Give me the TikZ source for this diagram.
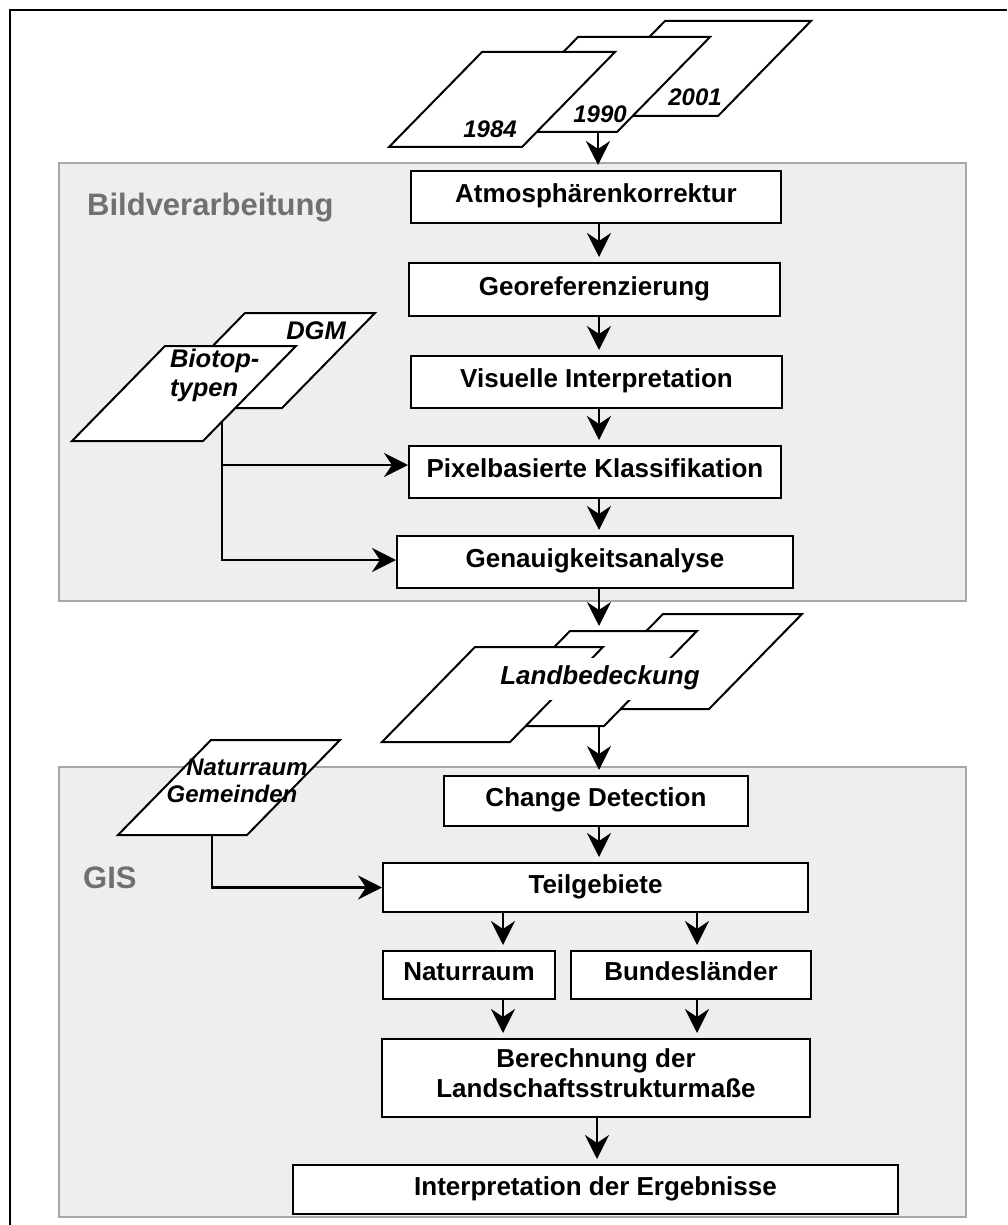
\documentclass[tikz,border=0pt]{standalone}
\usepackage{fontspec}
\setmainfont{Liberation Sans}
\usetikzlibrary{arrows.meta,calc}
\definecolor{panelfill}{HTML}{EEEEEE}
\definecolor{panelline}{HTML}{A8A8A8}
\definecolor{paneltext}{HTML}{707070}
\newcommand{\pgram}[3]{\filldraw[pgshape] (#1,#2) -- ++(#3,0) -- ++(93,-95) -- ++(-#3,0) -- cycle;}
\begin{document}
\begin{tikzpicture}[x=1pt,y=-1pt,
  box/.style={draw=black, line width=2pt, fill=white, inner sep=0pt,
    font=\fontsize{26}{30}\selectfont\bfseries, text height=19pt, text depth=8pt, align=center},
  pgshape/.style={draw=black, line width=2pt, fill=white, line join=miter},
  plabel/.style={font=\fontsize{24}{25}\selectfont\bfseries\itshape, inner sep=0pt, anchor=base},
  blabel/.style={font=\fontsize{25.5}{26}\selectfont\bfseries\itshape, inner sep=0pt, anchor=base},
  panel/.style={fill=panelfill, draw=panelline, line width=1.5pt},
  ptitle/.style={font=\fontsize{31}{31}\selectfont\bfseries, text=paneltext, inner sep=0pt, anchor=base west},
  tip/.style={-{Stealth[length=24pt,width=24pt,inset=8pt]}},
  arrv/.style={line width=2.8pt, tip, shorten >=5pt},
  arrh/.style={line width=2.8pt, tip}]
\useasboundingbox (0,0) rectangle (1007,1225);
% outer frame
\draw[line width=2pt] (10,1225) -- (10,10) -- (1007,10);
% panels
\filldraw[panel] (59,163) rectangle (966,601);
\filldraw[panel] (59,767) rectangle (966,1217);
\node[ptitle] (bildlab) at (87,215) {Bildverarbeitung};
\node[ptitle] (gislab) at (83,888) {GIS};
% input images
\pgram{572}{116}{146}
\pgram{485}{132}{132}
\pgram{389}{147}{133}
\node[plabel] (t2001) at (695,106) {2001};
\node[plabel] (t1990) at (600,123) {1990};
\node[plabel] (t1984) at (490,138) {1984};
\coordinate (src) at (598,132);
% DGM / Biotoptypen
\pgram{152}{408}{130}
\pgram{72}{441}{131}
\node[blabel] (tdgm) at (316,339) {DGM};
\node[blabel, anchor=base west] (tbio1) at (170,367) {Biotop-};
\node[blabel, anchor=base west] (tbio2) at (170,396) {typen};
\coordinate (bioout) at (222,422);
% Landbedeckung
\pgram{570}{709}{139}
\pgram{477}{726}{127}
\pgram{382}{742}{128}
\node[fill=white, inner sep=0pt, minimum width=210pt, minimum height=42pt,
  font=\fontsize{26}{30}\selectfont\bfseries\itshape, text height=19pt, text depth=8pt] (land) at (600,679) {Landbedeckung};
\coordinate (landtop) at (599,631);
\coordinate (landbot) at (599,726);
% Naturraum Gemeinden
\pgram{118}{835}{129}
\node[plabel] (tnat) at (247,775) {Naturraum};
\node[plabel] (tgem) at (232,802) {Gemeinden};
\coordinate (natout) at (212,835);
% process boxes
\node[box, minimum width=370pt, minimum height=52pt] (atm) at (596,197) {Atmosphärenkorrektur};
\node[box, minimum width=371pt, minimum height=53pt] (geo) at (594.5,289.5) {Georeferenzierung};
\node[box, minimum width=371pt, minimum height=52pt] (vis) at (596.5,382) {Visuelle Interpretation};
\node[box, minimum width=372pt, minimum height=52pt] (pix) at (595,472) {Pixelbasierte Klassifikation};
\node[box, minimum width=396pt, minimum height=52pt] (gen) at (595,562) {Genauigkeitsanalyse};
\node[box, minimum width=304pt, minimum height=50pt] (chg) at (596,801) {Change Detection};
\node[box, minimum width=425pt, minimum height=49pt] (teil) at (595.5,887.5) {Teilgebiete};
\node[box, minimum width=172pt, minimum height=48pt] (natur) at (469,975) {Naturraum};
\node[box, minimum width=240pt, minimum height=48pt] (bund) at (691,975) {Bundesländer};
\node[box, minimum width=428pt, minimum height=78pt, text height=49pt, text depth=11pt] (ber) at (596,1078) {Berechnung der\\Landschaftsstrukturmaße};
\node[box, minimum width=605pt, minimum height=49pt] (interp) at (595.5,1189.5) {Interpretation der Ergebnisse};
% arrow columns
\coordinate (mx) at (599,0);
\coordinate (lx) at (503,0);
\coordinate (rx) at (697,0);
\coordinate (bx) at (597,0);
\coordinate (pixin) at ([yshift=7pt]pix.west);
\coordinate (genin) at ([yshift=2pt]gen.west);
% connectors
\draw[arrv] (src) -- (src |- atm.north);
\draw[arrv] (atm.south -| mx) -- (geo.north -| mx);
\draw[arrv] (geo.south -| mx) -- (vis.north -| mx);
\draw[arrv] (vis.south -| mx) -- (pix.north -| mx);
\draw[arrv] (pix.south -| mx) -- (gen.north -| mx);
\draw[arrv] (gen.south -| mx) -- (landtop);
\draw[arrv] (landbot) -- (chg.north -| mx);
\draw[arrv] (chg.south -| mx) -- (teil.north -| mx);
\draw[arrv] (teil.south -| lx) -- (natur.north -| lx);
\draw[arrv] (teil.south -| rx) -- (bund.north -| rx);
\draw[arrv] (natur.south -| lx) -- (ber.north -| lx);
\draw[arrv] (bund.south -| rx) -- (ber.north -| rx);
\draw[arrv] (ber.south -| bx) -- (interp.north -| bx);
\draw[arrh] (bioout) |- (genin);
\draw[arrh] (bioout |- pixin) -- (pixin);
\draw[arrh] (natout) |- (teil.west);
\end{tikzpicture}
\end{document}
